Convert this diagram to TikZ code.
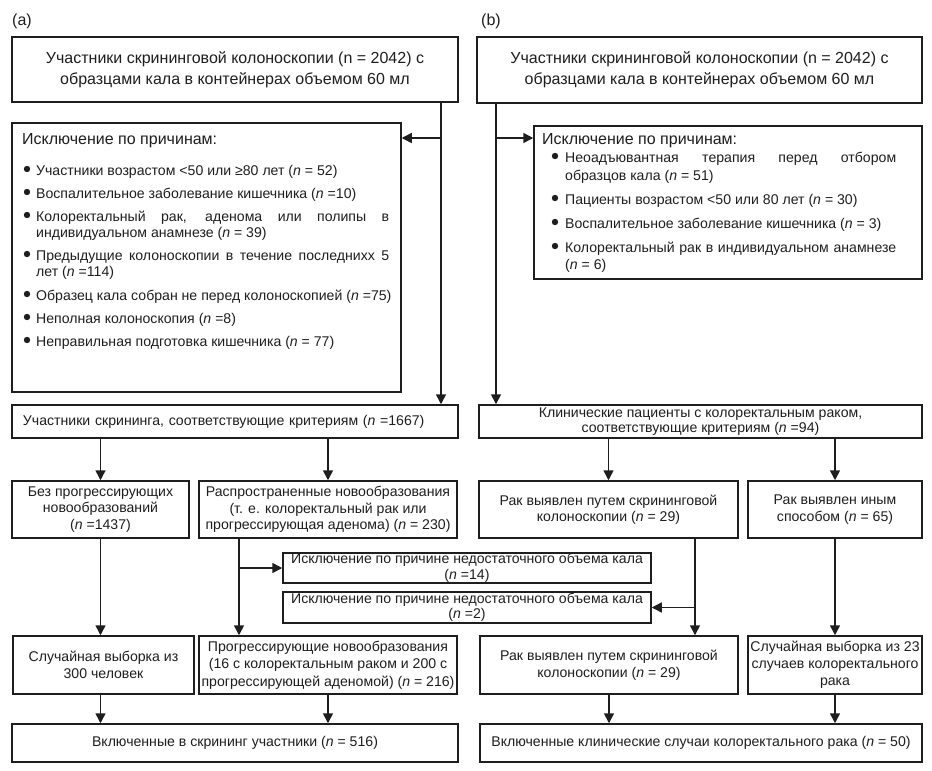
\documentclass[tikz,border=0pt]{standalone}
\usepackage{fontspec}
\setmainfont{Liberation Sans}
\usetikzlibrary{arrows.meta}
\definecolor{ink}{HTML}{1E1E1E}
\newcommand{\fsb}{\fontsize{14.1}{16.5}\selectfont}
\newcommand{\fsl}{\fontsize{16}{21}\selectfont}
\newcommand{\nn}{\textit{n}}
\begin{document}
\begin{tikzpicture}[x=1pt,y=-1pt,
  box/.style={draw=ink, line width=1.5pt, inner sep=0pt, align=center, font=\fsb, text=ink},
  itm/.style={anchor=base west, inner sep=0pt, font=\fsb, text=ink},
  ttl/.style={anchor=base west, inner sep=0pt, font=\fsl, text=ink},
  arr/.style={line width=1.5pt, draw=ink, -{Triangle[length=10pt,width=10pt]}},
  bul/.style={fill=ink}]
\useasboundingbox (0,0) rectangle (932,771);
\fill[white] (0,0) rectangle (932,771);
% panel labels
\node[font=\fsl, text=ink, inner sep=0pt] (la) at (22,21) {(a)};
\node[font=\fsl, text=ink, inner sep=0pt] (lb) at (491,21) {(b)};
% ---------- left panel ----------
\node[box, font=\fsl, minimum width=446pt, minimum height=65pt] (top1) at (235,69.5)
  {Участники скрининговой колоноскопии (n = 2042) с\\образцами кала в контейнерах объемом 60 мл};
\node[box, minimum width=389pt, minimum height=269pt] (exA) at (206.5,257.5) {};
\node[ttl] (exAt) at (22,144.5) {Исключение по причинам:};
\fill[bul] (27,169) circle (3.2pt);
\node[itm] (a1) at (36,175) {Участники возрастом <50 или ≥80 лет (\nn{} = 52)};
\fill[bul] (27,192) circle (3.2pt);
\node[itm] (a2) at (36,198) {Воспалительное заболевание кишечника (\nn{} =10)};
\fill[bul] (27,215) circle (3.2pt);
\node[itm] (a3) at (36,221) {\makebox[353pt][s]{Колоректальный рак, аденома или полипы в}};
\node[itm] (a3b) at (36,237) {индивидуальном анамнезе (\nn{} = 39)};
\fill[bul] (27,254) circle (3.2pt);
\node[itm] (a4) at (36,260) {\makebox[353pt][s]{Предыдущие колоноскопии в течение последнихх 5}};
\node[itm] (a4b) at (36,276) {лет (\nn{} =114)};
\fill[bul] (27,294) circle (3.2pt);
\node[itm] (a5) at (36,300) {Образец кала собран не перед колоноскопией (\nn{} =75)};
\fill[bul] (27,317) circle (3.2pt);
\node[itm] (a6) at (36,323) {Неполная колоноскопия (\nn{} =8)};
\fill[bul] (27,340) circle (3.2pt);
\node[itm] (a7) at (36,346) {Неправильная подготовка кишечника (\nn{} = 77)};
\node[box, align=left, minimum height=33pt, text width=424pt, inner xsep=11pt] (crit) at (235,421.5)
  {Участники скрининга, соответствующие критериям (\nn{} =1667)};
\node[box, minimum width=177pt, minimum height=57pt] (bez) at (100.5,509.5)
  {Без прогрессирующих\\новообразований\\(\nn{} =1437)};
\node[box, minimum width=258pt, minimum height=57pt] (ras) at (328,509.5)
  {Распространенные новообразования\\(т. е. колоректальный рак или\\прогрессирующая аденома) (\nn{} = 230)};
\node[box, font=\fontsize{14.1}{15.5}\selectfont, minimum width=368pt, minimum height=30pt] (ex14) at (467,568)
  {Исключение по причине недостаточного объема кала\\(\nn{} =14)};
\node[box, font=\fontsize{14.1}{15.5}\selectfont, minimum width=368pt, minimum height=31pt] (ex2) at (467,607.5)
  {Исключение по причине недостаточного объема кала\\(\nn{} =2)};
\node[box, minimum width=181pt, minimum height=58pt] (sl300) at (103.5,665)
  {Случайная выборка из\\300 человек};
\node[box, font=\fontsize{14.1}{17.5}\selectfont, minimum width=258pt, minimum height=58pt] (prog) at (328,665)
  {Прогрессирующие новообразования\\(16 с колоректальным раком и 200 с\\прогрессирующей аденомой) (\nn{} = 216)};
\node[box, minimum width=446pt, minimum height=38pt] (fin1) at (235,743)
  {Включенные в скрининг участники (\nn{} = 516)};
% ---------- right panel ----------
\node[box, font=\fsl, minimum width=445pt, minimum height=66pt] (top2) at (699.5,70)
  {Участники скрининговой колоноскопии (n = 2042) с\\образцами кала в контейнерах объемом 60 мл};
\node[box, minimum width=388pt, minimum height=153pt] (exB) at (728,202.5) {};
\node[ttl] (exBt) at (542,144) {Исключение по причинам:};
\fill[bul] (555,156) circle (3.2pt);
\node[itm] (b1) at (565,162) {\makebox[331pt][s]{Неоадъювантная терапия перед отбором}};
\node[itm] (b1b) at (565,180) {образцов кала (\nn{} = 51)};
\fill[bul] (555,198) circle (3.2pt);
\node[itm] (b2) at (565,204) {Пациенты возрастом <50 или 80 лет (\nn{} = 30)};
\fill[bul] (555,222) circle (3.2pt);
\node[itm] (b3) at (565,228) {Воспалительное заболевание кишечника (\nn{} = 3)};
\fill[bul] (555,246) circle (3.2pt);
\node[itm] (b4) at (565,252) {\makebox[331pt][s]{Колоректальный рак в индивидуальном анамнезе}};
\node[itm] (b4b) at (565,269) {(\nn{} = 6)};
\node[box, font=\fontsize{14.1}{15}\selectfont, minimum width=443pt, minimum height=33pt] (klin) at (700.5,421.5)
  {Клинические пациенты с колоректальным раком,\\соответствующие критериям (\nn{} =94)};
\node[box, minimum width=259pt, minimum height=57pt] (rak1) at (608.5,509.5)
  {Рак выявлен путем скрининговой\\колоноскопии (\nn{} = 29)};
\node[box, minimum width=174pt, minimum height=57pt] (inym) at (835,509.5)
  {Рак выявлен иным\\способом (\nn{} = 65)};
\node[box, minimum width=258pt, minimum height=58pt] (rak2) at (609,665)
  {Рак выявлен путем скрининговой\\колоноскопии (\nn{} = 29)};
\node[box, font=\fontsize{14.1}{17}\selectfont, minimum width=174pt, minimum height=58pt] (sl23) at (835,665)
  {Случайная выборка из 23\\случаев колоректального\\рака};
\node[box, minimum width=442pt, minimum height=38pt] (fin2) at (701,743)
  {Включенные клинические случаи колоректального рака (\nn{} = 50)};
% ---------- connectors left ----------
\coordinate (xL) at (441,0);
\coordinate (jA) at (441,138);
\draw[arr] (top1.south -| xL) -- (crit.north -| xL);
\draw[arr] (jA) -- (jA -| exA.east);
\draw[arr] (crit.south -| bez.north) -- (bez.north);
\draw[arr] (crit.south -| ras.north) -- (ras.north);
\draw[arr] (bez.south) -- (bez.south |- sl300.north);
\coordinate (xR) at (239,0);
\draw[arr] (ras.south -| xR) -- (prog.north -| xR);
\draw[arr] (xR |- ex14.west) -- (ex14.west);
\draw[arr] (sl300.south -| bez.south) -- (fin1.north -| bez.south);
\draw[arr] (prog.south) -- (prog.south |- fin1.north);
% ---------- connectors right ----------
\coordinate (xB) at (496,0);
\coordinate (jB) at (496,138);
\draw[arr] (top2.south -| xB) -- (klin.north -| xB);
\draw[arr] (jB) -- (jB -| exB.west);
\draw[arr] (klin.south -| rak1.north) -- (rak1.north);
\draw[arr] (klin.south -| inym.north) -- (inym.north);
\coordinate (xP) at (695,0);
\draw[arr] (rak1.south -| xP) -- (rak2.north -| xP);
\draw[arr] (xP |- ex2.east) -- (ex2.east);
\draw[arr] (inym.south) -- (inym.south |- sl23.north);
\draw[arr] (rak2.south) -- (rak2.south |- fin2.north);
\draw[arr] (sl23.south) -- (sl23.south |- fin2.north);
\end{tikzpicture}
\end{document}
